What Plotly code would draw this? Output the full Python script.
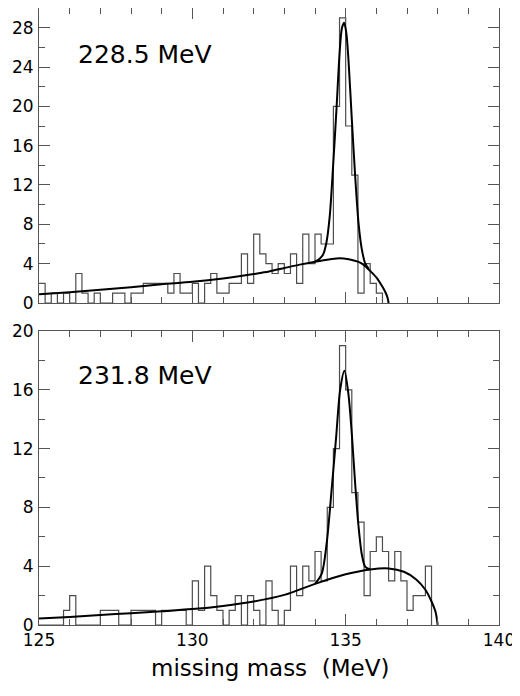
import numpy as np
import plotly.graph_objects as go

# ---------------- data ----------------
bin_start = 125.0
bin_width = 0.2
n_bins = 75
edges = np.round(bin_start + bin_width * np.arange(n_bins + 1), 3)

top_counts = [2, 0, 1, 0, 1, 0, 3, 1, 0, 1,
              0, 0, 1, 1, 0, 1, 1, 2, 2, 2,
              2, 1, 3, 1, 1, 2, 0, 2, 3, 1,
              1, 2, 2, 5, 2, 7, 5, 4, 3, 4,
              3, 5, 2, 7, 4, 7, 6, 6, 20, 29,
              18, 13, 1, 4, 2, 1, 0, 0, 0, 0,
              0, 0, 0, 0, 0, 0, 0, 0, 0, 0,
              0, 0, 0, 0, 0]

bottom_counts = [0, 0, 0, 0, 1, 2, 0, 0, 0, 0,
                 1, 1, 1, 0, 0, 1, 1, 1, 1, 0,
                 1, 1, 1, 1, 0, 3, 1, 4, 2, 1,
                 0, 1, 2, 0, 2, 1, 0, 3, 1, 0,
                 1, 4, 2, 4, 3, 5, 3, 8, 12, 19,
                 16, 9, 7, 2, 5, 6, 5, 3, 5, 3,
                 1, 2, 2, 4, 0, 0, 0, 0, 0, 0,
                 0, 0, 0, 0, 0]

# fitted background curves
top_bg_x = [125, 126, 127, 128, 129, 130, 131, 132, 132.5, 133, 133.5, 134, 134.5,
            134.8, 135.1, 135.4, 135.6, 135.8, 136.0, 136.15, 136.28, 136.36, 136.4]
top_bg_y = [0.9, 1.1, 1.35, 1.6, 1.9, 2.15, 2.5, 2.95, 3.2, 3.55, 3.9, 4.2, 4.45,
            4.55, 4.45, 4.2, 3.85, 3.25, 2.6, 1.9, 1.2, 0.6, 0.0]

# fitted peak + background
top_pk_x = [134.0, 134.15, 134.26, 134.37, 134.48, 134.59, 134.70, 134.81, 134.88,
            134.95, 135.02, 135.09, 135.20, 135.31, 135.42, 135.53, 135.64, 135.75]
top_pk_y = [4.2, 4.5, 4.9, 6.1, 8.8, 13.9, 19.7, 25.8, 28.0,
            28.5, 27.5, 24.8, 18.7, 12.9, 8.1, 5.4, 4.0, 3.5]

bot_bg_x = [125, 126, 127, 128, 129, 130, 131, 132, 133, 134, 135, 135.8, 136.4,
            136.9, 137.3, 137.6, 137.8, 137.93, 138.0]
bot_bg_y = [0.45, 0.55, 0.68, 0.8, 0.93, 1.08, 1.3, 1.6, 2.05, 2.8, 3.45, 3.78, 3.85,
            3.62, 3.1, 2.4, 1.6, 0.9, 0.0]

bot_pk_x = [134.0, 134.22, 134.38, 134.55, 134.69, 134.82, 134.96, 135.09, 135.2,
            135.31, 135.42, 135.53, 135.64, 135.8]
bot_pk_y = [2.8, 3.5, 5.55, 9.4, 12.8, 16.0, 17.3, 15.7, 13.0,
            9.6, 6.7, 4.76, 3.96, 3.78]

labels = ["228.5 MeV", "231.8 MeV"]
x_ticks = [125, 130, 135, 140]
x_title = "missing mass\u00a0 (MeV)"

# ---------------- figure ----------------
FONT = "DejaVu Sans"
hist_color = "#4d4d4d"
axis_color = "#555555"

fig = go.Figure()


def trimmed(counts):
    last = max(i for i, c in enumerate(counts) if c > 0)
    xs = list(edges[: last + 2])
    ys = list(counts[: last + 1]) + [0]
    return xs, ys


def add_panel(counts, bgx, bgy, pkx, pky, xa, ya):
    hx, hy = trimmed(counts)
    fig.add_trace(go.Scatter(
        x=hx, y=hy,
        mode="lines", line=dict(shape="hv", color=hist_color, width=1.2),
        xaxis=xa, yaxis=ya, hoverinfo="skip", showlegend=False))
    fig.add_trace(go.Scatter(
        x=bgx, y=bgy, mode="lines",
        line=dict(shape="spline", smoothing=0.8, color="black", width=2),
        xaxis=xa, yaxis=ya, hoverinfo="skip", showlegend=False))
    fig.add_trace(go.Scatter(
        x=pkx, y=pky, mode="lines",
        line=dict(shape="spline", smoothing=0.8, color="black", width=2),
        xaxis=xa, yaxis=ya, hoverinfo="skip", showlegend=False))


add_panel(top_counts, top_bg_x, top_bg_y, top_pk_x, top_pk_y, "x", "y")
add_panel(bottom_counts, bot_bg_x, bot_bg_y, bot_pk_x, bot_pk_y, "x2", "y2")

common_x = dict(range=[125, 140], ticks="inside", ticklen=11, tickwidth=1,
                tickcolor=axis_color, tick0=125, dtick=5,
                minor=dict(ticks="inside", ticklen=6, tick0=125, dtick=1,
                           tickcolor=axis_color, showgrid=False),
                showline=True, linecolor=axis_color, linewidth=1,
                mirror="allticks", showgrid=False, zeroline=False,
                automargin=False)
common_y = dict(ticks="inside", ticklen=11, tickwidth=1, tickcolor=axis_color,
                tick0=0, dtick=4,
                minor=dict(ticks="inside", ticklen=6, tick0=0, dtick=2,
                           tickcolor=axis_color, showgrid=False),
                showline=True, linecolor=axis_color, linewidth=1,
                mirror="allticks", showgrid=False, zeroline=False,
                automargin=False, ticklabelstandoff=1,
                tickfont=dict(family=FONT, size=17, color="black"))

# the page body adds an 8px offset, so the figure is sized/margined to compensate
fig.update_layout(
    width=512, height=688,
    margin=dict(l=31, r=21, t=0, b=71, autoexpand=False),
    paper_bgcolor="white", plot_bgcolor="white",
    font=dict(family=FONT, color="black"),
    showlegend=False,
    xaxis=dict(common_x, domain=[0, 1], anchor="y", showticklabels=False),
    yaxis=dict(common_y, domain=[0.5219, 1], range=[0, 30], anchor="x"),
    xaxis2=dict(common_x, domain=[0, 1], anchor="y2", showticklabels=True,
                tickvals=x_ticks, ticktext=[str(v) for v in x_ticks],
                tickfont=dict(family=FONT, size=17, color="black")),
    yaxis2=dict(common_y, domain=[0, 0.4765], range=[0, 20], anchor="x2"),
)

fig.add_annotation(x=126.2, y=25.3, xref="x", yref="y", text=labels[0],
                   showarrow=False, xanchor="left", yanchor="middle",
                   font=dict(family=FONT, size=25, color="black"))
fig.add_annotation(x=126.2, y=17.0, xref="x2", yref="y2", text=labels[1],
                   showarrow=False, xanchor="left", yanchor="middle",
                   font=dict(family=FONT, size=25, color="black"))
fig.add_annotation(x=0.502, y=0, xref="paper", yref="paper", yshift=-43,
                   text=x_title, showarrow=False, xanchor="center", yanchor="middle",
                   font=dict(family=FONT, size=23, color="black"))

fig.write_html("out.html")
